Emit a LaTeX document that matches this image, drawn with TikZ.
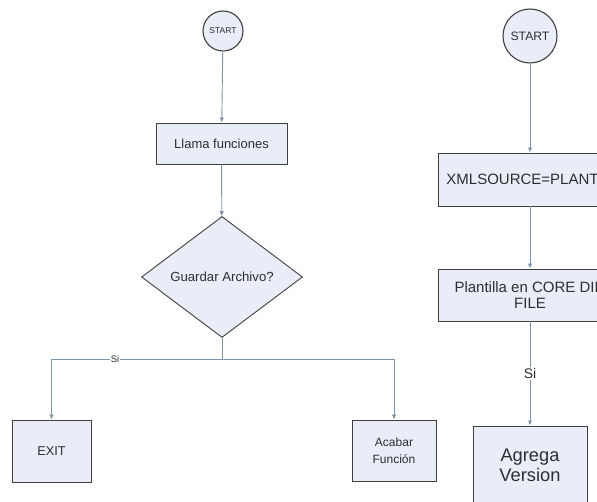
\documentclass[tikz,border=0pt]{standalone}
\usepackage{fontspec}
\setmainfont{Liberation Sans}
\usetikzlibrary{shapes.geometric,arrows.meta}
\definecolor{boxfill}{HTML}{E9EDF7}
\definecolor{boxline}{HTML}{3F3F3F}
\definecolor{wire}{HTML}{7D94AB}
\definecolor{ink}{HTML}{2E2E2E}
\newcommand{\fsz}[2]{\fontsize{#1}{#2}\selectfont}
\begin{document}
\begin{tikzpicture}[x=1pt,y=-1pt,
  flowbox/.style={draw=boxline,fill=boxfill,line width=0.9pt,text=ink,
    align=center,inner sep=0pt},
  startnode/.style={flowbox,circle,line width=1.1pt},
  decision/.style={flowbox,diamond,aspect=1.33},
  flow/.style={draw=wire,line width=0.9pt,-{Latex[length=5pt,width=4.5pt]}},
  wireline/.style={draw=wire,line width=0.9pt},
  lbl/.style={fill=white,text=ink,inner sep=1pt}]
\useasboundingbox (0,0) rectangle (597,502);
\clip (0,0) rectangle (597,502);

% ---- left flow: file save decision ----
\node[startnode,minimum size=40pt,font=\fsz{8.5}{10}] (startA) at (223,31) {START};
\node[flowbox,minimum width=131pt,minimum height=41pt,font=\fsz{13}{15}]
  (llama) at (221.5,143.5) {Llama funciones};
\node[decision,minimum width=161pt,minimum height=121pt,font=\fsz{13.2}{15}]
  (guardar) at (222,277) {Guardar Archivo?};
\coordinate (split) at (222,359);
\node[flowbox,minimum width=79pt,minimum height=62pt,font=\fsz{12.8}{15}]
  (exit) at (51.5,451) {EXIT};
\node[flowbox,minimum width=84pt,minimum height=61pt,font=\fsz{12}{17.5}]
  (acabar) at (394,450.5) {Acabar\\Función};

\draw[flow] (startA) -- (llama);
\draw[flow] (llama) -- (guardar);
\draw[wireline] (guardar.south) -- (split);
\draw[flow] (split) -| (exit.north);
\draw[flow] (split) -| (acabar.north);
\node[lbl,font=\fsz{9.5}{11}] (siA) at (115,359) {Si};

% ---- right flow: template source ----
\node[startnode,minimum size=54pt,font=\fsz{12.2}{14}] (startB) at (530,36) {START};
\node[flowbox,anchor=west,inner xsep=8pt,minimum height=53pt,font=\fsz{15}{16}]
  (xml) at (438,179.5) {XMLSOURCE=PLANTILLA};
\node[flowbox,minimum width=184pt,minimum height=52pt,font=\fsz{15}{16}]
  (plantilla) at (530,295) {Plantilla en CORE DIR\\FILE};
\node[flowbox,minimum width=114pt,minimum height=79pt,font=\fsz{18.3}{20}]
  (agrega) at (530,465.5) {Agrega\\Version};

\draw[flow] (startB) -- (startB |- xml.north);
\draw[flow] (plantilla.north |- xml.south) -- (plantilla);
\draw[flow] (plantilla) -- (agrega)
  node[lbl,pos=0.5,font=\fsz{14}{16}] (siB) {Si};
\end{tikzpicture}
\end{document}
